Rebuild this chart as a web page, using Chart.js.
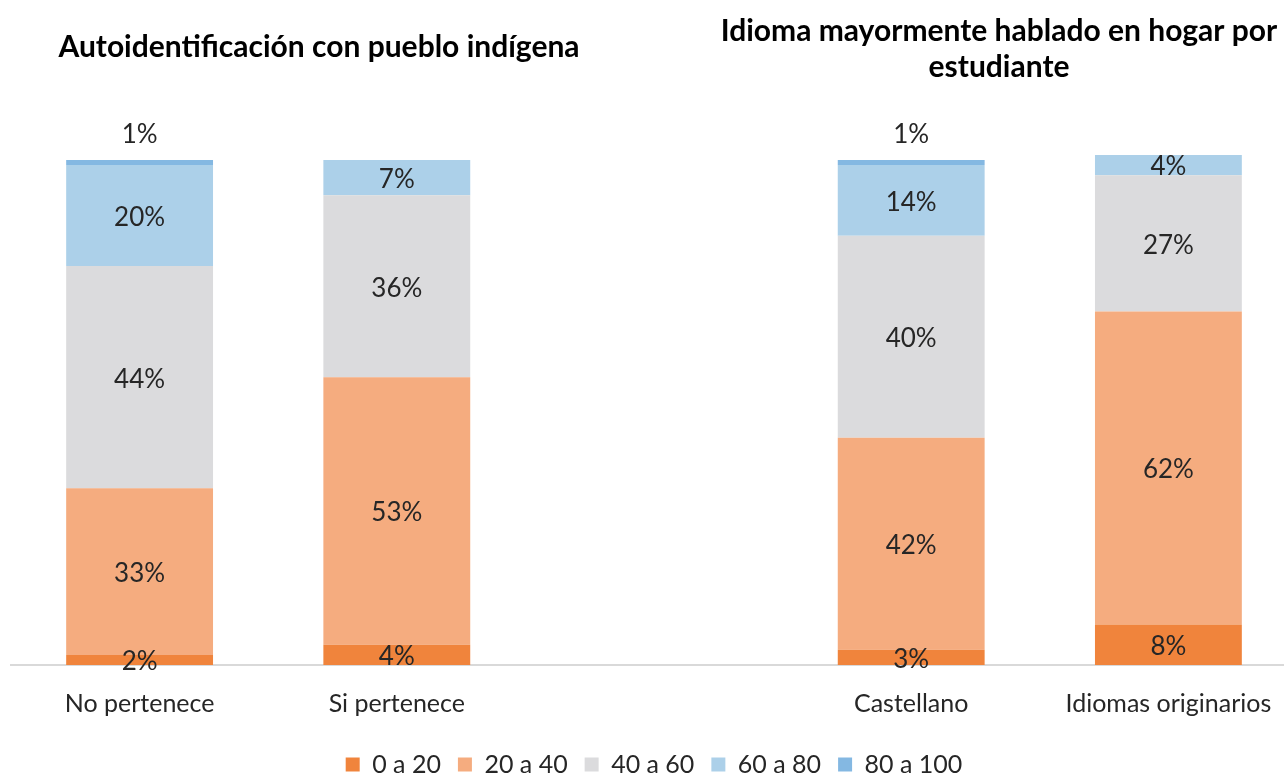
<!DOCTYPE html>
<html>
<head>
<meta charset="utf-8">
<script src="https://cdn.jsdelivr.net/npm/chart.js@4"></script>
<style>
  body { margin: 0; overflow: hidden; background: #fff; }
  #wrap { width: 1320px; height: 787px; position: relative; }
</style>
</head>
<body>
<div id="wrap"><canvas id="stackChart"></canvas></div>
<script>
const categories = ['No pertenece', 'Si pertenece', '', 'Castellano', 'Idiomas originarios'];
const rangeLabels = ['0 a 20', '20 a 40', '40 a 60', '60 a 80', '80 a 100'];
const r0to20 = [2, 4, null, 3, 8];
const r20to40 = [33, 53, null, 42, 62];
const r40to60 = [44, 36, null, 40, 27];
const r60to80 = [20, 7, null, 14, 4];
const r80to100 = [1, 0, null, 1, 0];
const titleLeft = 'Autoidentificación con pueblo indígena';
const titleRight = ['Idioma mayormente hablado en hogar por', 'estudiante'];

const colors = ['#F0843C', '#F5AC7F', '#DBDBDD', '#ACD0E9', '#84B8E2'];
const FONT = 'Lato, "Open Sans", sans-serif';

// data labels: centred in segment, top range drawn above the stack
const segLabels = {
    id: 'segLabels',
    afterDatasetsDraw(chart) {
        const ctx = chart.ctx;
        ctx.save();
        ctx.font = '26px ' + FONT;
        ctx.fillStyle = '#262626';
        ctx.textAlign = 'center';
        ctx.textBaseline = 'middle';
        chart.data.datasets.forEach((ds, di) => {
            chart.getDatasetMeta(di).data.forEach((bar, i) => {
                const v = ds.data[i];
                if (!v) return;
                let y = (bar.y + bar.base) / 2 + 2;
                if (di === 4) y = bar.y - 25;
                ctx.fillText(v + '%', bar.x, y);
            });
        });
        ctx.restore();
    }
};

const groupTitles = {
    id: 'groupTitles',
    afterDraw(chart) {
        const ctx = chart.ctx;
        ctx.save();
        ctx.font = 'bold 30px ' + FONT;
        ctx.fillStyle = '#000';
        ctx.textAlign = 'center';
        ctx.textBaseline = 'middle';
        ctx.fillText(titleLeft, 319, 47);
        ctx.fillText(titleRight[0], 999, 31);
        ctx.fillText(titleRight[1], 999, 67);
        ctx.restore();
    }
};

const ctx = document.getElementById('stackChart').getContext('2d');
const stackChart = new Chart(ctx, {
    type: 'bar',
    data: {
        labels: categories,
        datasets: [r0to20, r20to40, r40to60, r60to80, r80to100].map((d, k) => ({
            label: rangeLabels[k],
            data: d,
            backgroundColor: colors[k],
            categoryPercentage: 1,
            barPercentage: 0.571
        }))
    },
    options: {
        responsive: true,
        maintainAspectRatio: false,
        animation: false,
        layout: { padding: { top: 59, left: 11, right: 23, bottom: 0 } },
        scales: {
            x: {
                stacked: true,
                grid: { display: false },
                border: { display: true, color: '#D9D9D9', width: 2 },
                ticks: { color: '#262626', font: { family: FONT, size: 25 }, padding: 16 }
            },
            y: {
                stacked: true,
                display: false,
                min: 0,
                max: 120
            }
        },
        plugins: {
            legend: {
                position: 'bottom',
                labels: {
                    color: '#262626',
                    font: { family: FONT, size: 25 },
                    boxWidth: 14,
                    boxHeight: 14,
                    padding: 17
                }
            },
            tooltip: { enabled: false }
        }
    },
    plugins: [segLabels, groupTitles]
});
</script>
</body>
</html>
